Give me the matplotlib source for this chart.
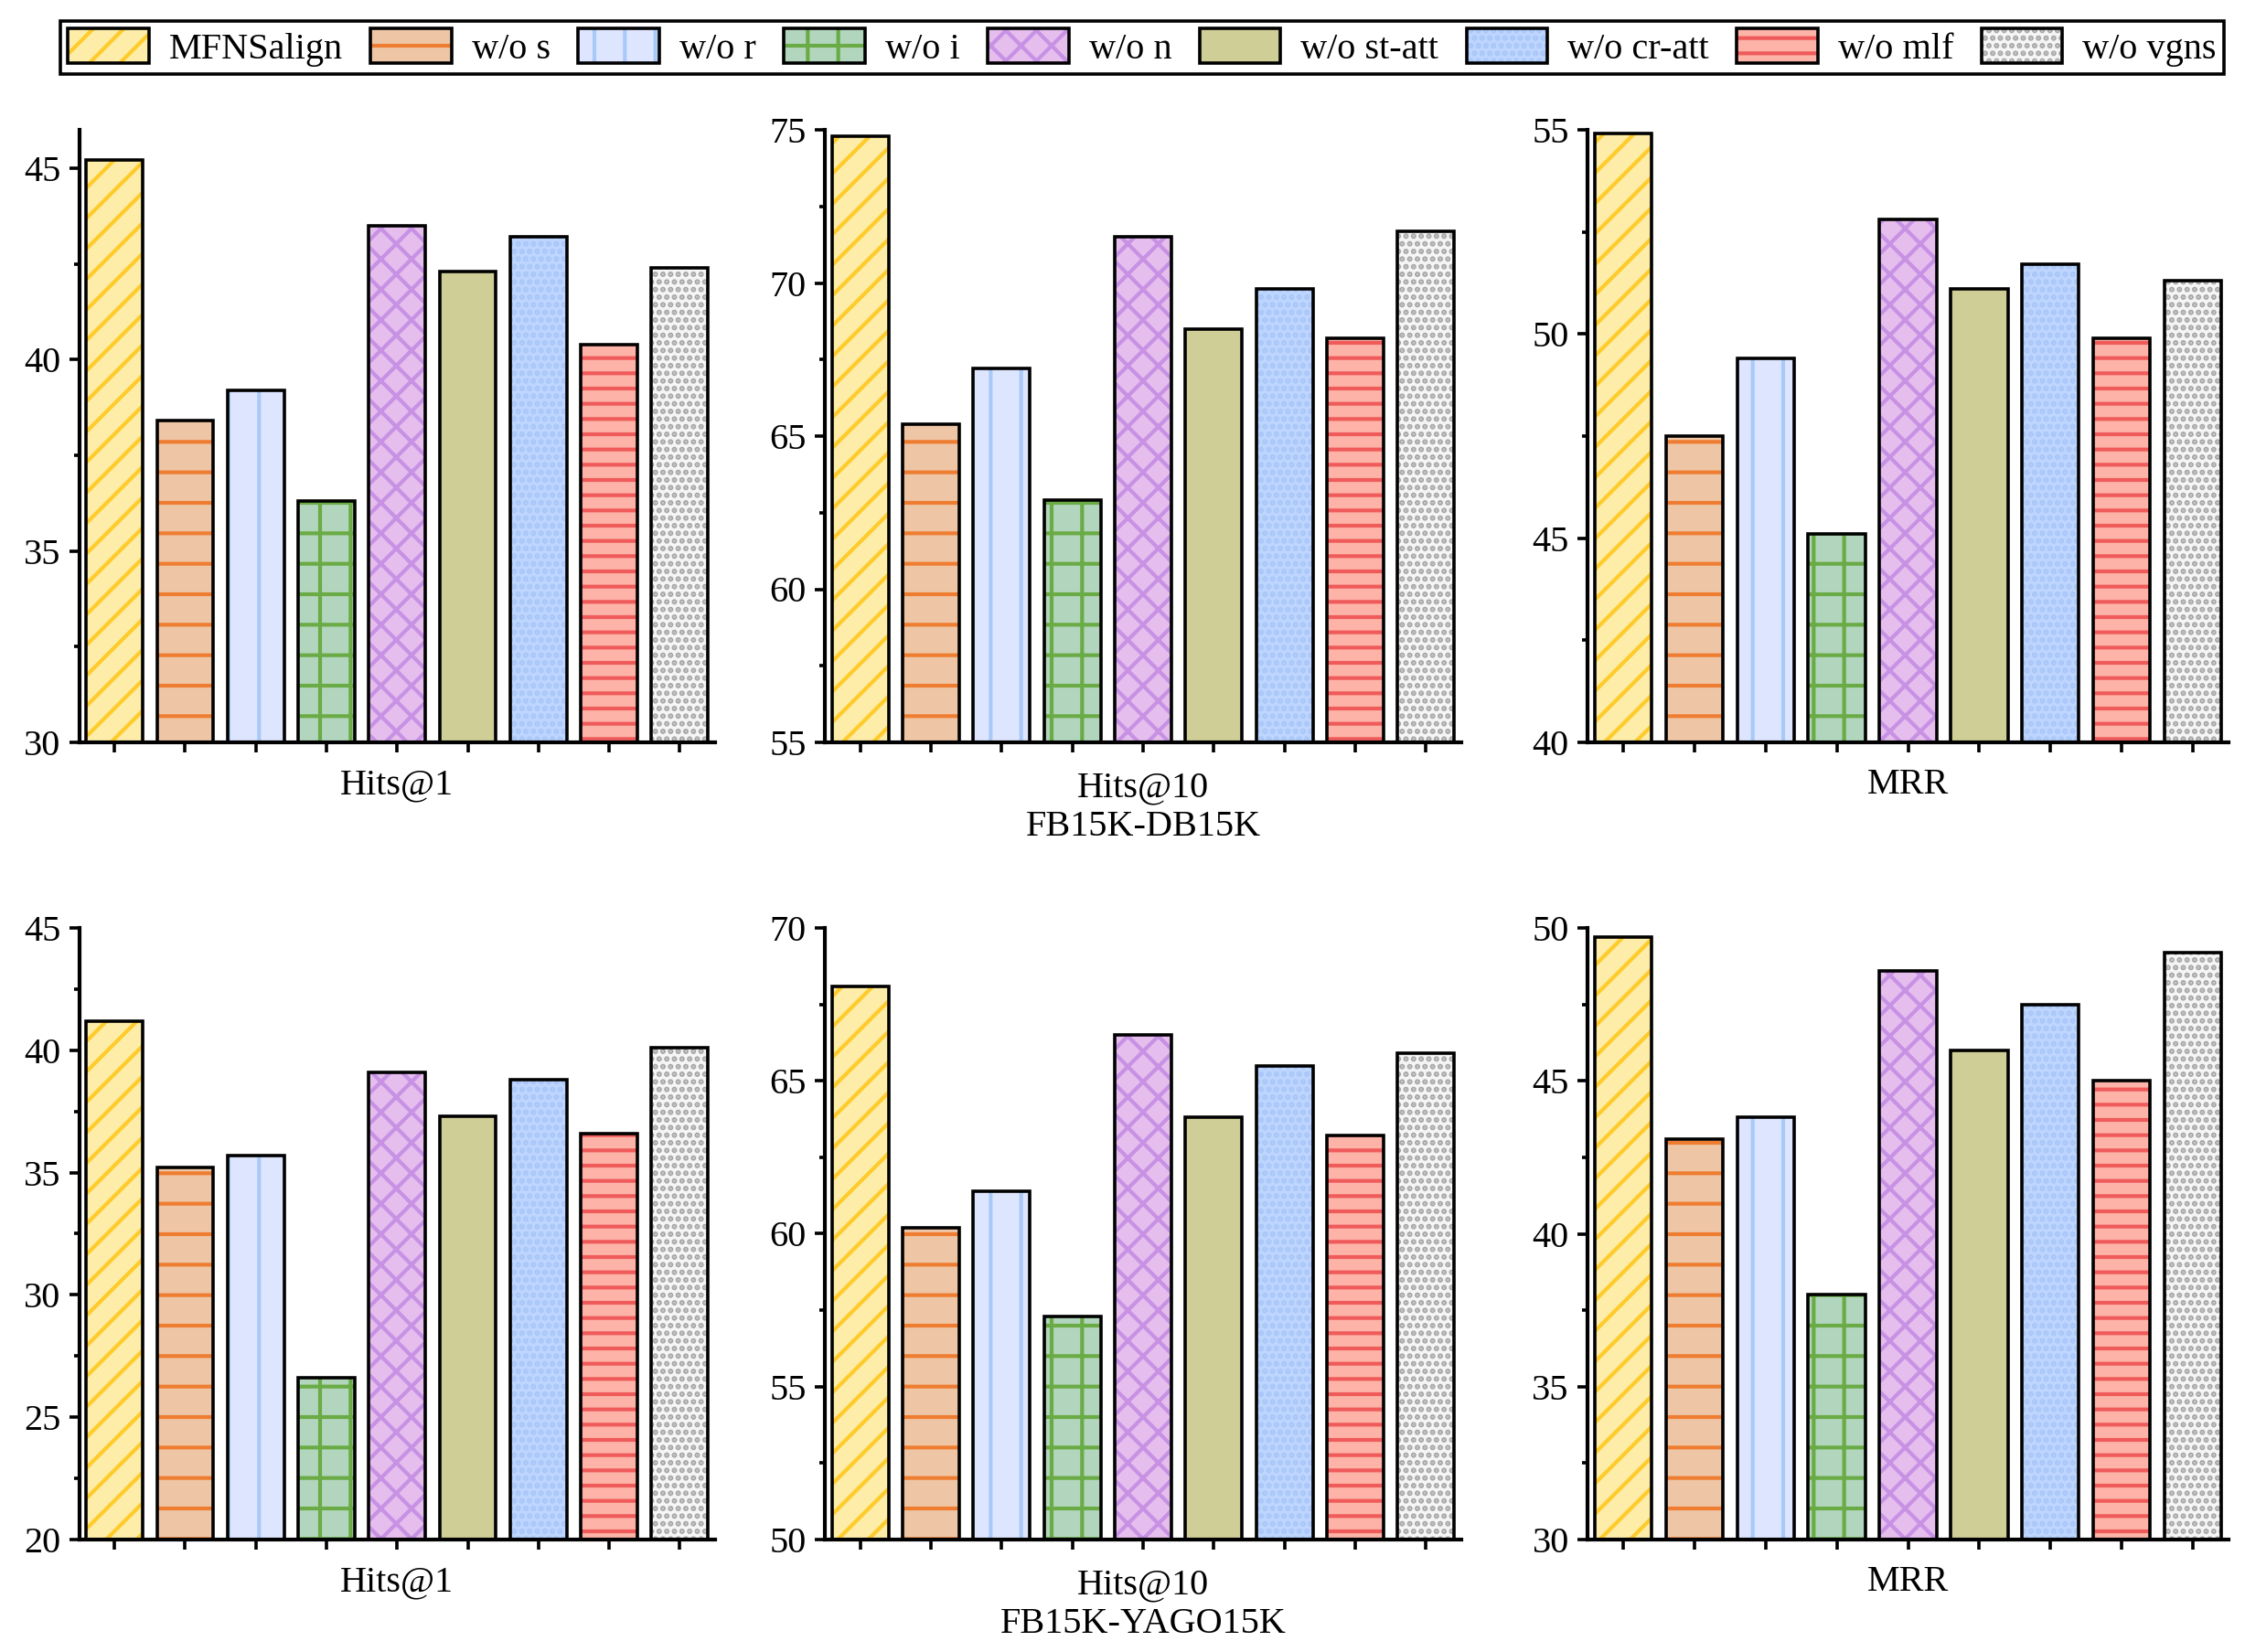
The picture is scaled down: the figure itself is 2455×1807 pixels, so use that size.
import numpy as np
import matplotlib
matplotlib.use("Agg")
import matplotlib.pyplot as plt
from matplotlib.patches import Patch
from matplotlib.legend_handler import HandlerTuple
from matplotlib.ticker import MultipleLocator, AutoMinorLocator

plt.rcParams['font.family'] = 'Liberation Serif'
plt.rcParams['font.size'] = 14.5
plt.rcParams['hatch.linewidth'] = 1.5

models = ["MFNSalign", "w/o s", "w/o r", "w/o i", "w/o n",
          "w/o st-att", "w/o cr-att", "w/o mlf", "w/o vgns"]

# FB15K-DB15K
db_hits1 = [45.2, 38.4, 39.2, 36.3, 43.5, 42.3, 43.2, 40.4, 42.4]
db_hits10 = [74.8, 65.4, 67.2, 62.9, 71.5, 68.5, 69.8, 68.2, 71.7]
db_mrr = [54.9, 47.5, 49.4, 45.1, 52.8, 51.1, 51.7, 49.9, 51.3]

# FB15K-YAGO15K
yago_hits1 = [41.2, 35.2, 35.7, 26.6, 39.1, 37.3, 38.8, 36.6, 40.1]
yago_hits10 = [68.1, 60.2, 61.4, 57.3, 66.5, 63.8, 65.5, 63.2, 65.9]
yago_mrr = [49.7, 43.1, 43.8, 38.0, 48.6, 46.0, 47.5, 45.0, 49.2]

faces = ['#FDEDA8', '#EEC6A6', '#DEE6FF', '#B2D6BD', '#E5BEEE',
         '#CFCE96', '#BDD5FF', '#FDB3A7', '#F5F5F5']
hatch_colors = ['#FFCB2B', '#EE7D31', '#A9C9F8', '#6AAB45', '#C791E4',
                '#CFCE96', '#A8C6F7', '#EF5B5B', '#A5A5A5']
hatches = ['//', '-', '|', '+', 'xx', '', '....', '--', '....']

W, H = 2455, 1807
fig = plt.figure(figsize=(W / 200, H / 200), dpi=200)

cols = [(86.6, 782), (902, 1598), (1736, 2437)]
rows = [(142, 812), (1015, 1684)]

panels = [
    (db_hits1, (30, 46), "Hits@1"),
    (db_hits10, (55, 75), "Hits@10\nFB15K-DB15K"),
    (db_mrr, (40, 55), "MRR"),
    (yago_hits1, (20, 45), "Hits@1"),
    (yago_hits10, (50, 70), "Hits@10\nFB15K-YAGO15K"),
    (yago_mrr, (30, 50), "MRR"),
]

x = np.arange(len(models))
for k, (vals, ylim, label) in enumerate(panels):
    r, c = divmod(k, 3)
    x0, x1 = cols[c]
    y0, y1 = rows[r]
    ax = fig.add_axes([x0 / W, 1 - y1 / H, (x1 - x0) / W, (y1 - y0) / H])

    bars = ax.bar(x, vals, 0.8, color=faces, edgecolor=hatch_colors, linewidth=0)
    for b, h in zip(bars, hatches):
        b.set_hatch(h)
    ax.bar(x, vals, 0.8, facecolor='none', edgecolor='black', linewidth=1.3)

    ax.set_xlim(-0.5, len(models) - 0.5)
    ax.set_ylim(*ylim)
    ax.yaxis.set_major_locator(MultipleLocator(5))
    ax.yaxis.set_minor_locator(AutoMinorLocator(2))
    ax.set_xticks(x)
    ax.set_xticklabels([])
    ax.tick_params(axis='both', which='major', direction='out', length=3.8, width=1.3, pad=3.5)
    ax.tick_params(axis='y', which='minor', direction='out', length=2.3, width=1.3)
    for s in ['top', 'right']:
        ax.spines[s].set_visible(False)
    for s in ['left', 'bottom']:
        ax.spines[s].set_linewidth(1.5)

    if "\n" in label:
        ax.set_xlabel(label, va='center', linespacing=1.2)
        ax.xaxis.set_label_coords(0.5, -0.107)
    else:
        ax.set_xlabel(label, va='center')
        ax.xaxis.set_label_coords(0.5, -0.070)

handles = [(Patch(facecolor=f, edgecolor=hc, hatch=h, linewidth=0),
            Patch(facecolor='none', edgecolor='black', linewidth=1.3))
           for f, hc, h in zip(faces, hatch_colors, hatches)]
leg = fig.legend(handles, models, handler_map={tuple: HandlerTuple(ndivide=1, pad=0)},
                 ncol=9, loc='center', mode='expand',
                 bbox_to_anchor=(66 / W, 1 - 80 / H, (2432 - 66) / W, 56 / H),
                 frameon=True, fancybox=False, edgecolor='black', framealpha=1,
                 handlelength=2.2, handleheight=1.05, handletextpad=0.55,
                 columnspacing=0.5, borderpad=0.2, borderaxespad=0)
leg.get_frame().set_linewidth(1.3)

fig.savefig("out.png", dpi=200)
